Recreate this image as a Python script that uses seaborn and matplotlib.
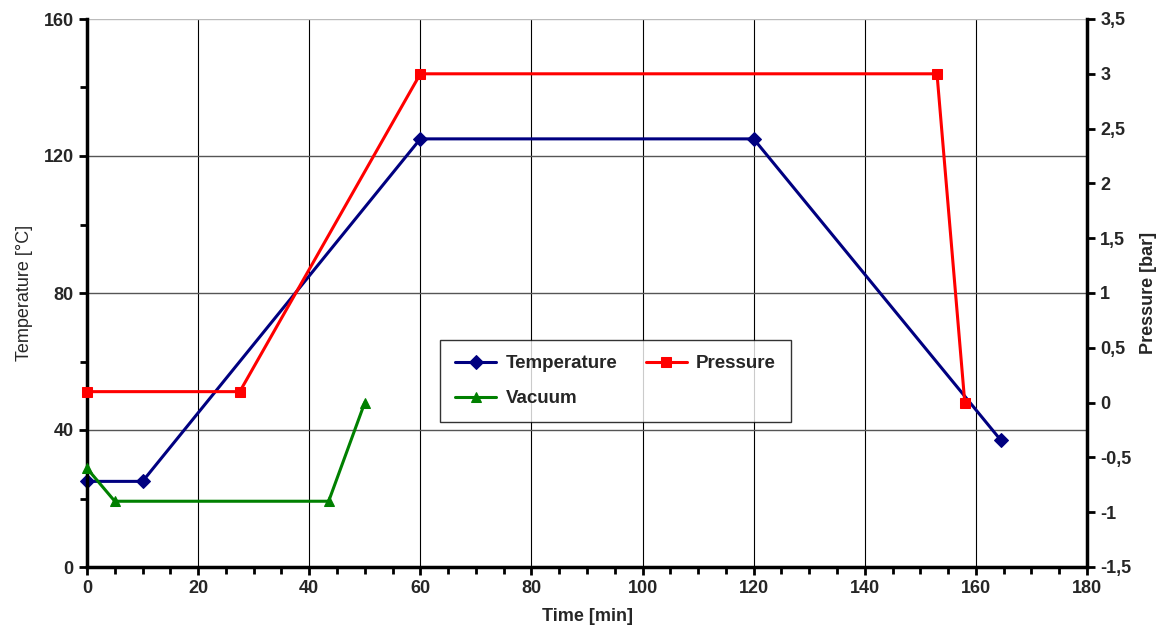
import matplotlib
matplotlib.use("Agg")
import matplotlib.pyplot as plt
import seaborn as sns
import pandas as pd
from matplotlib.ticker import MultipleLocator, FuncFormatter

sns.set_style("white")
plt.rcParams['font.family'] = ['Liberation Sans', 'DejaVu Sans']

temp_time = [0, 10, 60, 120, 164.5]
temp_vals = [25, 25, 125, 125, 37]
press_time = [0, 27.5, 60, 153, 158]
press_vals = [0.1, 0.1, 3, 3, 0]
vac_time = [0, 5, 43.5, 50]
vac_vals = [-0.6, -0.9, -0.9, 0]

df_t = pd.DataFrame({"time": temp_time, "val": temp_vals})
df_p = pd.DataFrame({"time": press_time, "val": press_vals})
df_v = pd.DataFrame({"time": vac_time, "val": vac_vals})

fig = plt.figure(figsize=(11.71, 6.42), dpi=100)
ax = fig.add_axes([87/1171, 75/642, 1000/1171, 548/642])
ax2 = ax.twinx()

navy = "#000080"
red = "#FF0000"
green = "#008000"

sns.lineplot(data=df_t, x="time", y="val", ax=ax, sort=False, color=navy,
             marker="D", markersize=7, markeredgecolor=navy, linewidth=2.2,
             label="Temperature", legend=False, clip_on=False)
sns.lineplot(data=df_p, x="time", y="val", ax=ax2, sort=False, color=red,
             marker="s", markersize=7, markeredgecolor=red, linewidth=2.2,
             label="Pressure", legend=False, clip_on=False)
sns.lineplot(data=df_v, x="time", y="val", ax=ax2, sort=False, color=green,
             marker="^", markersize=7, markeredgecolor=green, linewidth=2.2,
             label="Vacuum", legend=False, clip_on=False)

ax.set_xlim(0, 180)
ax.set_ylim(0, 160)
ax2.set_ylim(-1.5, 3.5)

ax.xaxis.set_major_locator(MultipleLocator(20))
ax.xaxis.set_minor_locator(MultipleLocator(5))
ax.yaxis.set_major_locator(MultipleLocator(40))
ax.yaxis.set_minor_locator(MultipleLocator(20))
ax2.yaxis.set_major_locator(MultipleLocator(0.5))

ax2.yaxis.set_major_formatter(FuncFormatter(
    lambda v, p: ("%g" % v).replace(".", ",")))

# grid
for x in range(20, 180, 20):
    ax.axvline(x, color="black", linewidth=0.8, zorder=0)
for y in (40, 80, 120):
    ax.axhline(y, color="#555555", linewidth=1.0, zorder=0)
ax.axhline(160, color="#bbbbbb", linewidth=1.0, zorder=0)

for a in (ax, ax2):
    for s in a.spines.values():
        s.set_visible(False)
for a, side in ((ax, "left"), (ax, "bottom"), (ax2, "right")):
    a.spines[side].set_visible(True)
    a.spines[side].set_linewidth(2.5)
    a.spines[side].set_color("black")

ax.tick_params(axis="both", which="major", direction="out", length=6, width=2,
               color="black", labelsize=13)
ax.tick_params(axis="both", which="minor", direction="out", length=5, width=2,
               color="black")
ax.tick_params(axis="x", which="both", bottom=True)
ax.tick_params(axis="y", which="both", left=True)
ax2.tick_params(axis="y", which="major", direction="out", length=6, width=2,
                color="black", labelsize=13, right=True)

for lbl in ax.get_xticklabels() + ax.get_yticklabels():
    lbl.set_fontweight("bold")
for lbl in ax2.get_yticklabels():
    lbl.set_fontweight("bold")

ax.set_xlabel("Time [min]", fontsize=13, fontweight="bold", labelpad=8)
ax.set_ylabel("Temperature [°C]", fontsize=13, labelpad=8)
ax2.set_ylabel("Pressure [bar]", fontsize=13, fontweight="bold", labelpad=6)

h1, l1 = ax.get_legend_handles_labels()
h2, l2 = ax2.get_legend_handles_labels()
leg = ax2.legend([h1[0], h2[1], h2[0]], [l1[0], l2[1], l2[0]], ncol=2,
                 loc="upper left",
                 bbox_to_anchor=(353/1000, (567-340)/548),
                 borderaxespad=0,
                 frameon=True, fancybox=False, edgecolor="black",
                 prop={"weight": "bold", "size": 13.5},
                 handlelength=2.2, handletextpad=0.5,
                 columnspacing=1.5, labelspacing=0.95,
                 borderpad=0.8)
leg.get_frame().set_linewidth(1.0)

fig.savefig("out.png", dpi=100)
